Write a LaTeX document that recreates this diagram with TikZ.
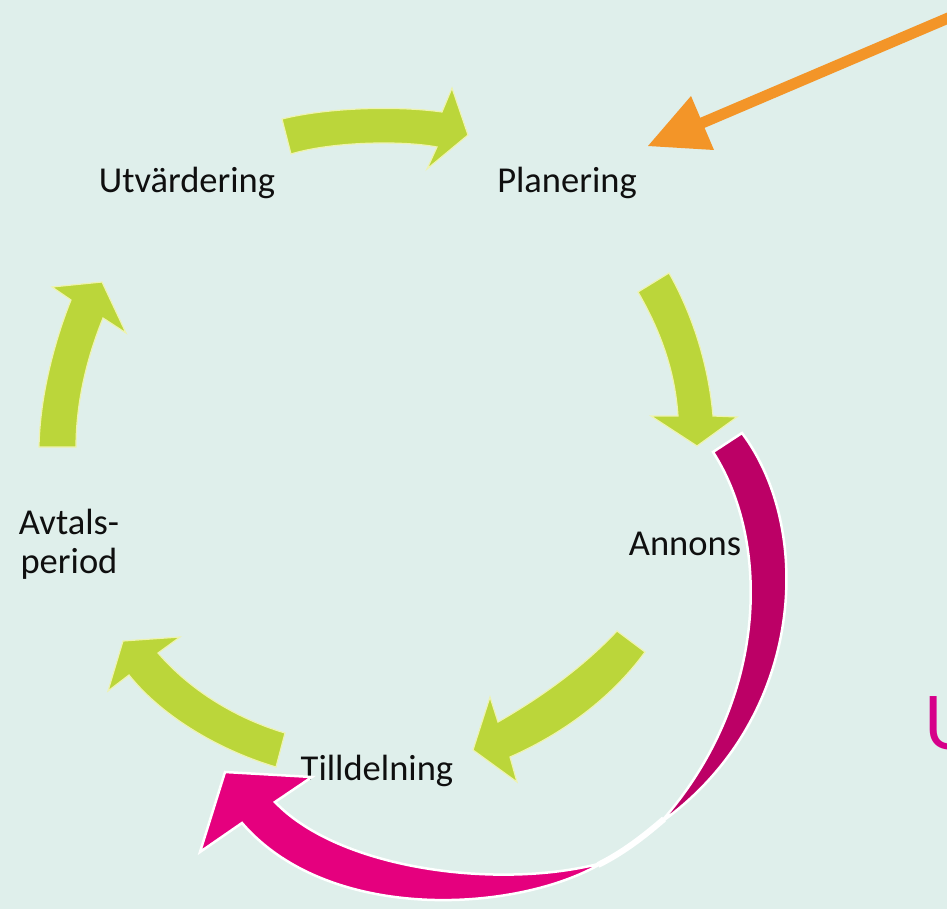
\documentclass[tikz,border=0pt]{standalone}
\usepackage{fontspec}
\setmainfont{Carlito}
\newfontfamily\ufont{Poppins}
\definecolor{bg}{RGB}{223,239,235}
\definecolor{leaf}{RGB}{187,214,58}
\definecolor{leafedge}{RGB}{238,243,176}
\definecolor{plum}{RGB}{188,0,102}
\definecolor{rosa}{RGB}{229,0,126}
\definecolor{ucol}{RGB}{214,0,138}
\definecolor{orng}{RGB}{243,149,40}
\definecolor{ink}{RGB}{15,15,15}
\begin{document}
\begin{tikzpicture}[x=1pt,y=-1pt,
  lbl/.style={font=\fontsize{36.5}{38.3}\selectfont, text=ink, inner sep=0pt, anchor=base},
  greenarrow/.style={fill=leaf, draw=leafedge, line width=1.2pt, line join=miter},
  plumband/.style={fill=plum, draw=white, line width=2.5pt, line join=miter},
  rosaarrow/.style={fill=rosa, draw=white, line width=2.5pt, line join=miter},
  orangeshaft/.style={draw=orng, line width=11pt},
  orangehead/.style={fill=orng}]
\useasboundingbox (0,0) rectangle (947,909);
\fill[bg] (0,0) rectangle (947,909);

% labels
\node[lbl] (utv) at (187,193) {Utvärdering};
\node[lbl] (plan) at (567,193) {Planering};
\node[lbl] (ann) at (685,555) {Annons};
\node[lbl] (till) at (377,780) {Tilldelning};
\node[lbl, align=center] (avt) at (69,573) {Avtals-\\period};
\node[font=\ufont\fontsize{76}{76}\selectfont, text=ucol, anchor=base west, inner sep=0pt] (u) at (924,749) {U};

% green cycle arrows
\path[greenarrow] (282,119) .. controls (330,107) and (400,106) .. (442,112)
  -- (452,88) -- (468,135) -- (427,169) -- (437,147)
  .. controls (400,140) and (330,142) .. (291,154) -- cycle;
\path[greenarrow] (638,292) -- (669,273) .. controls (690,310) and (708,360) .. (713,416)
  -- (737,417) -- (697,446) -- (651,416) -- (678,416)
  .. controls (675,370) and (660,330) .. (638,292) -- cycle;
\path[greenarrow] (645,652) -- (617,631) .. controls (585,665) and (545,695) .. (498,722)
  -- (490,697) -- (473,750) -- (517,782) -- (510,757)
  .. controls (560,735) and (610,700) .. (645,652) -- cycle;
\path[greenarrow] (276,767) -- (285,733) .. controls (235,718) and (190,690) .. (158,653)
  -- (180,637) -- (123,641) -- (108,691) -- (129,675)
  .. controls (165,720) and (225,752) .. (276,767) -- cycle;
\path[greenarrow] (39,447) -- (76,447) .. controls (76,400) and (88,355) .. (103,318)
  -- (126,333) -- (102,282) -- (52,287) -- (71,300)
  .. controls (55,340) and (40,395) .. (39,447) -- cycle;

% magenta arrow
\draw[white, line width=6pt] (664,819) .. controls (642,838) and (622,853) .. (598,865);
\path[plumband] (713,452) -- (742,433) .. controls (815,530) and (805,720) .. (660,823)
  .. controls (770,700) and (770,540) .. (713,452) -- cycle;
\path[rosaarrow] (602,863) .. controls (500,890) and (340,870) .. (275,802)
  -- (312,777) -- (225,772) -- (200,852) -- (242,823)
  .. controls (330,925) and (520,912) .. (602,863) -- cycle;

% orange arrow
\coordinate (ostart) at (960,13);
\coordinate (obase) at (702,123);
\coordinate (otip) at (648,146);
\coordinate (obarbA) at (691,96);
\coordinate (obarbB) at (714,150);
\draw[orangeshaft] (ostart) -- (obase);
\fill[orangehead] (otip) -- (obarbA) -- (obarbB) -- cycle;
\end{tikzpicture}
\end{document}
